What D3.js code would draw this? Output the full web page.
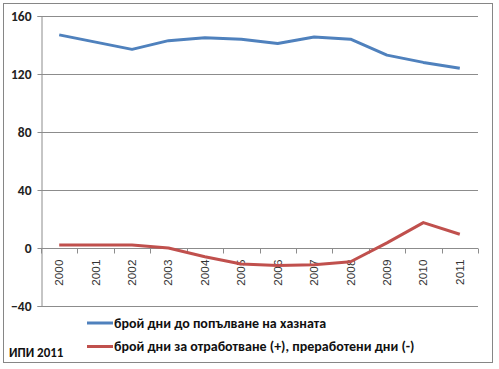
<!DOCTYPE html>
<html>
<head>
<meta charset="utf-8">
<script src="https://cdn.jsdelivr.net/npm/d3@7"></script>
<style>
  body { margin: 0; background: #fff; }
  svg { display: block; }
</style>
</head>
<body>
<div id="chart"></div>
<script>
// chart data
const years = ['2000', '2001', '2002', '2003', '2004', '2005', '2006', '2007', '2008', '2009', '2010', '2011'];
const daysToFill = [147, 142, 137, 143, 145, 144, 141, 145.5, 144, 133, 128, 124];
const daysToWork = [2, 2, 2, 0, -6, -11, -12, -11.5, -9.5, 3.5, 17.5, 9.5];
const yTicks = [-40, 0, 40, 80, 120, 160];
const seriesNames = [
    'брой дни до попълване на хазната',
    'брой дни за отработване (+), преработени дни (-)'
];
const sourceNote = 'ИПИ 2011';

const width = 499, height = 369;
const plot = { left: 41, right: 478, top: 16, bottom: 306 };
const colors = ['#4F81BD', '#C0504D'];
const font = 'Calibri, Carlito, "Open Sans", Arial, sans-serif';

const svg = d3.select('#chart').append('svg')
    .attr('width', width)
    .attr('height', height);

// outer frame
svg.append('rect')
    .attr('x', 3.5).attr('y', 3.5)
    .attr('width', 489).attr('height', 359)
    .attr('fill', '#fff')
    .attr('stroke', '#868686');

const x = d3.scaleBand()
    .domain(years)
    .range([plot.left, plot.right]);

const y = d3.scaleLinear()
    .domain([-40, 160])
    .range([plot.bottom, plot.top]);

// horizontal grid lines
svg.append('g')
    .selectAll('line')
    .data(yTicks)
    .enter().append('line')
    .attr('x1', plot.left)
    .attr('x2', plot.right)
    .attr('y1', d => Math.round(y(d)) + 0.5)
    .attr('y2', d => Math.round(y(d)) + 0.5)
    .attr('stroke', '#8c8c8c')
    .attr('stroke-width', 1);

// y axis
const yAxis = svg.append('g')
    .attr('transform', `translate(${plot.left + 0.5},0)`)
    .call(d3.axisLeft(y).tickValues(yTicks).tickSize(4).tickPadding(6));
yAxis.select('.domain').attr('stroke', '#8c8c8c');
yAxis.selectAll('.tick line').attr('stroke', '#8c8c8c');
yAxis.selectAll('text')
    .attr('font-family', font)
    .attr('font-weight', 'bold')
    .attr('font-size', '13.5px')
    .attr('fill', '#222');

// x axis on the zero line, ticks between categories
const xAxisG = svg.append('g')
    .attr('transform', `translate(0,${Math.round(y(0)) + 0.5})`);
xAxisG.append('line')
    .attr('x1', plot.left).attr('x2', plot.right)
    .attr('stroke', '#8c8c8c');
xAxisG.selectAll('.tk')
    .data(years.concat(['end']))
    .enter().append('line')
    .attr('class', 'tk')
    .attr('x1', (d, i) => Math.round(plot.left + i * x.step()) + 0.5)
    .attr('x2', (d, i) => Math.round(plot.left + i * x.step()) + 0.5)
    .attr('y1', 0).attr('y2', 5)
    .attr('stroke', '#8c8c8c');
xAxisG.selectAll('text')
    .data(years)
    .enter().append('text')
    .attr('transform', d => `translate(${x(d) + x.bandwidth() / 2 + 4},11) rotate(-90)`)
    .attr('text-anchor', 'end')
    .attr('font-family', 'Arial, "Liberation Sans", sans-serif')
    .attr('font-size', '11.8px')
    .attr('fill', '#333')
    .text(d => d);

// lines
const line = d3.line()
    .x((d, i) => x(years[i]) + x.bandwidth() / 2)
    .y(d => y(d));

[daysToFill, daysToWork].forEach((series, k) => {
    svg.append('path')
        .datum(series)
        .attr('fill', 'none')
        .attr('stroke', colors[k])
        .attr('stroke-width', 3)
        .attr('stroke-linejoin', 'round')
        .attr('d', line);
});

// legend
const legend = svg.append('g');
seriesNames.forEach((name, k) => {
    const ly = 323 + k * 23.5;
    legend.append('line')
        .attr('x1', 87).attr('x2', 113)
        .attr('y1', ly).attr('y2', ly)
        .attr('stroke', colors[k])
        .attr('stroke-width', 3);
    legend.append('text')
        .attr('x', 114)
        .attr('y', ly + 4.5)
        .attr('font-family', font)
        .attr('font-weight', 'bold')
        .attr('font-size', '14px')
        .attr('fill', '#111')
        .text(name);
});

// source note
svg.append('text')
    .attr('x', 9)
    .attr('y', 357)
    .attr('font-family', font)
    .attr('font-weight', 'bold')
    .attr('font-size', '13px')
    .attr('fill', '#111')
    .text(sourceNote);
</script>
</body>
</html>
